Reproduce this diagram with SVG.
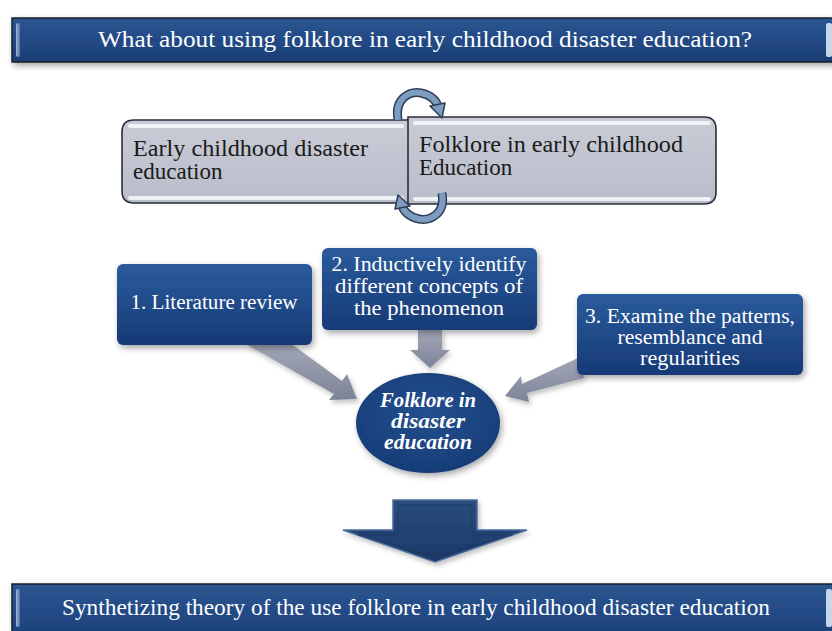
<svg xmlns="http://www.w3.org/2000/svg" width="832" height="631" viewBox="0 0 832 631" font-family="'Liberation Serif', 'DejaVu Serif', serif">
<defs>
<style>
text{font-family:'Liberation Serif','DejaVu Serif',serif;}
.w{fill:#ffffff;}
.k{fill:#1a1a1a;}
.banner{fill:url(#gBanner);stroke:#1a1f2a;stroke-width:1.5;}
.bbox{fill:url(#gBlue);filter:url(#sh);}
.gbox{fill:url(#gGrey);stroke:#2a2e38;stroke-width:1.6;}
.hl{fill:#f4f6fa;opacity:0.9;}
.garrow{fill:url(#gArrow);filter:url(#sh2);}
.cyc{fill:none;stroke:#2f3d55;stroke-width:9;stroke-linecap:butt;}
.cyc2{fill:none;stroke:#7d9cc2;stroke-width:6;stroke-linecap:butt;}
.cyh{fill:#7d9cc2;stroke:#2f3d55;stroke-width:1.5;stroke-linejoin:round;}
</style>
<linearGradient id="gBanner" x1="0" y1="0" x2="0" y2="1">
<stop offset="0" stop-color="#2d5690"/>
<stop offset="0.5" stop-color="#224a86"/>
<stop offset="1" stop-color="#1b3d72"/>
</linearGradient>
<linearGradient id="gBlue" x1="0" y1="0" x2="0" y2="1">
<stop offset="0" stop-color="#2b5b9c"/>
<stop offset="1" stop-color="#163a76"/>
</linearGradient>
<radialGradient id="gEll" cx="0.5" cy="0.4" r="0.6">
<stop offset="0" stop-color="#24508e"/>
<stop offset="1" stop-color="#173d78"/>
</radialGradient>
<linearGradient id="gGrey" x1="0" y1="0" x2="0" y2="1">
<stop offset="0" stop-color="#c9ccd6"/>
<stop offset="1" stop-color="#b9bdca"/>
</linearGradient>
<linearGradient id="gArrow" x1="0" y1="0" x2="0" y2="1">
<stop offset="0" stop-color="#a3a8b8"/>
<stop offset="1" stop-color="#7d8398"/>
</linearGradient>
<linearGradient id="gBig" x1="0" y1="0" x2="0" y2="1">
<stop offset="0" stop-color="#2a4d80"/>
<stop offset="1" stop-color="#1b3866"/>
</linearGradient>
<linearGradient id="gGloss" x1="0" y1="0" x2="1" y2="0">
<stop offset="0" stop-color="#9fb8d8"/>
<stop offset="1" stop-color="#4d72a6"/>
</linearGradient>
<filter id="sh" x="-10%" y="-10%" width="125%" height="130%">
<feDropShadow dx="2" dy="3" stdDeviation="3" flood-color="#000" flood-opacity="0.35"/>
</filter>
<filter id="sh2" x="-20%" y="-20%" width="140%" height="140%">
<feDropShadow dx="2" dy="3" stdDeviation="2.5" flood-color="#000" flood-opacity="0.25"/>
</filter>
</defs>
<rect width="832" height="631" fill="#ffffff"/>

<g id="header">
<rect class="banner" x="12" y="18" width="830" height="44" filter="url(#sh)"/>
<rect x="16" y="23" width="4" height="34" rx="2" fill="url(#gGloss)"/>
<rect x="826" y="23" width="6" height="34" rx="2" fill="#c8d6ea"/>
<text class="w" x="98" y="47" font-size="24" textLength="654" lengthAdjust="spacingAndGlyphs">What about using folklore in early childhood disaster education?</text>
</g>

<g id="early-childhood">
<path class="gbox" d="M134,120 H409 V203 H134 Q122,203 122,191 V132 Q122,120 134,120 Z"/>
<rect class="hl" x="128" y="124" width="276" height="4" rx="2"/>
<rect class="hl" x="128" y="196" width="276" height="4" rx="2"/>
<text class="k" x="133" y="156" font-size="23" textLength="235" lengthAdjust="spacingAndGlyphs">Early childhood disaster</text>
<text class="k" x="133" y="179" font-size="23">education</text>
</g>

<g id="folklore-early">
<path class="gbox" d="M408,117 H704 Q716,117 716,129 V192 Q716,204 704,204 H408 Z"/>
<rect class="hl" x="413" y="121" width="298" height="4" rx="2"/>
<rect class="hl" x="413" y="197" width="298" height="4" rx="2"/>
<text class="k" x="419" y="152" font-size="23" textLength="264" lengthAdjust="spacingAndGlyphs">Folklore in early childhood</text>
<text class="k" x="419" y="175" font-size="23">Education</text>
</g>

<g id="cycle">
<path class="cyc" d="M398,120 C394,98 410,91 421,93 C431,95 437,101 438,107"/>
<path class="cyc2" d="M398,120 C394,98 410,91 421,93 C431,95 437,101 438,107"/>
<polygon class="cyh" points="430,106 445,103 442,118"/>
<path class="cyc" d="M442,193 C446,214 430,221 419,219 C409,217 403,211 402,205"/>
<path class="cyc2" d="M442,193 C446,214 430,221 419,219 C409,217 403,211 402,205"/>
<polygon class="cyh" points="410,206 395,209 398,195"/>
</g>

<g id="connectors">
<polygon class="garrow" points="244,343 290,343 342,381 347,374 357,399 329,400 334,394"/>
<polygon class="garrow" points="418,330 442,330 442,350 450,350 430,368 410,350 418,350"/>
<polygon class="garrow" points="578,358 584,378 527,393 529,402 505,396 521,376 522,384"/>
</g>

<g id="step1">
<rect class="bbox" x="117" y="264" width="195" height="81" rx="6"/>
<text class="w" x="214" y="309" font-size="20" text-anchor="middle" textLength="167" lengthAdjust="spacingAndGlyphs">1. Literature review</text>
</g>

<g id="step2">
<rect class="bbox" x="322" y="248" width="215" height="82" rx="6"/>
<text class="w" x="429" y="271" font-size="20" text-anchor="middle" textLength="195" lengthAdjust="spacingAndGlyphs">2. Inductively identify</text>
<text class="w" x="429" y="293" font-size="20" text-anchor="middle" textLength="188" lengthAdjust="spacingAndGlyphs">different concepts of</text>
<text class="w" x="429" y="315" font-size="20" text-anchor="middle" textLength="150" lengthAdjust="spacingAndGlyphs">the phenomenon</text>
</g>

<g id="step3">
<rect class="bbox" x="577" y="294" width="226" height="81" rx="6"/>
<text class="w" x="690" y="323" font-size="20" text-anchor="middle" textLength="210" lengthAdjust="spacingAndGlyphs">3. Examine the patterns,</text>
<text class="w" x="690" y="344" font-size="20" text-anchor="middle" textLength="145" lengthAdjust="spacingAndGlyphs">resemblance and</text>
<text class="w" x="690" y="365" font-size="20" text-anchor="middle" textLength="100" lengthAdjust="spacingAndGlyphs">regularities</text>
</g>

<g id="folklore-disaster">
<ellipse cx="428" cy="423" rx="72" ry="50" fill="url(#gEll)" filter="url(#sh)"/>
<text class="w" x="428" y="407" font-size="20" font-style="italic" font-weight="bold" text-anchor="middle" textLength="96" lengthAdjust="spacingAndGlyphs">Folklore in</text>
<text class="w" x="428" y="428" font-size="20" font-style="italic" font-weight="bold" text-anchor="middle" textLength="74" lengthAdjust="spacingAndGlyphs">disaster</text>
<text class="w" x="428" y="449" font-size="20" font-style="italic" font-weight="bold" text-anchor="middle" textLength="88" lengthAdjust="spacingAndGlyphs">education</text>
</g>

<g id="big-arrow">
<polygon points="393,500 477,500 477,530 527,530 435,562 343,530 393,530" fill="url(#gBig)" stroke="#4d6c9a" stroke-width="1.5" stroke-linejoin="miter" filter="url(#sh2)"/>
<polygon points="398,505 472,505 472,535 512,535 435,557 358,535 398,535" fill="none" stroke="#1a3560" stroke-width="1" opacity="0.6"/>
</g>

<g id="footer">
<rect class="banner" x="12" y="584" width="830" height="60" filter="url(#sh)"/>
<rect x="16" y="589" width="4" height="38" rx="2" fill="url(#gGloss)"/>
<rect x="826" y="589" width="6" height="38" rx="2" fill="#c8d6ea"/>
<text class="w" x="62" y="615" font-size="24" textLength="708" lengthAdjust="spacingAndGlyphs">Synthetizing theory of the use folklore in early childhood disaster education</text>
</g>
</svg>
